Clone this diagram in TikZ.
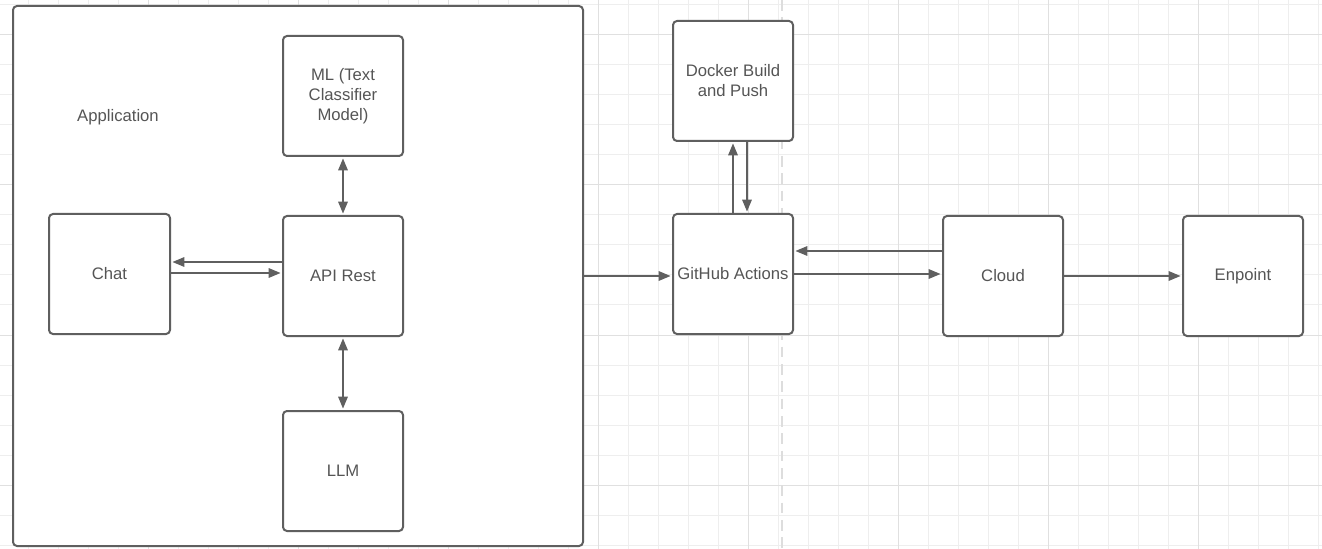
\documentclass[tikz,border=0pt]{standalone}
\usepackage{fontspec}
\setmainfont{Liberation Sans}
\usetikzlibrary{arrows.meta}
\definecolor{ln}{HTML}{5F5F5F}
\definecolor{tx}{HTML}{555555}
\definecolor{gmin}{HTML}{EEEEEE}
\definecolor{gmaj}{HTML}{E0E0E0}
\definecolor{dsh}{HTML}{DDDDDD}
\begin{document}
\begin{tikzpicture}[x=0.75pt,y=-0.75pt,
  box/.style={draw=ln,line width=1.5pt,rounded corners=3pt,fill=white,minimum width=90pt,minimum height=90pt,inner sep=0pt,text=tx,align=center,font=\fontsize{12.5}{15}\selectfont},
  arr/.style={draw=ln,line width=1.5pt,-{Triangle[length=9pt,width=7pt]},shorten >=1pt},
  darr/.style={draw=ln,line width=1.5pt,{Triangle[length=9pt,width=7pt]}-{Triangle[length=9pt,width=7pt]},shorten >=1pt,shorten <=1pt}]
\useasboundingbox (0,0) rectangle (1322,549);
\fill[white] (0,0) rectangle (1322,549);
% grid
\foreach \x in {28,58,...,1322} \draw[gmin,line width=0.75pt] (\x,0) -- (\x,549);
\foreach \y in {5,35,...,549} \draw[gmin,line width=0.75pt] (0,\y) -- (1322,\y);
\foreach \x in {148,298,...,1322} \draw[gmaj,line width=0.75pt] (\x,0) -- (\x,549);
\foreach \y in {35,185,...,549} \draw[gmaj,line width=0.75pt] (0,\y) -- (1322,\y);
\draw[dsh,line width=2.2pt,dash pattern=on 8pt off 5pt] (782,0) -- (782,549);
% nodes
\node[box,minimum width=427.5pt,minimum height=405pt] (app) at (298,276) {};
\node[text=tx,font=\fontsize{12.5}{15}\selectfont] (applbl) at (118,117) {Application};
\node[box] (ml) at (343,96) {ML (Text\\Classifier\\Model)};
\node[box,minimum width=90.75pt] (chat) at (109.5,274) {Chat};
\node[box] (api) at (343,276) {API Rest};
\node[box] (llm) at (343,471) {LLM};
\node[box] (docker) at (733,81) {Docker Build\\and Push};
\node[box] (gh) at (733,274) {GitHub Actions};
\node[box] (cloud) at (1003,276) {Cloud};
\node[box] (enp) at (1243,276) {Enpoint};
% connectors
\draw[darr] (ml) -- (api);
\draw[darr] (api) -- (llm);
\draw[arr] (api.west |- 0,262) -- (chat.east |- 0,262);
\draw[arr] (chat.east |- 0,273) -- (api.west |- 0,273);
\draw[arr] (app.east |- 0,276) -- (gh.west |- 0,276);
\draw[arr] (gh.north -| 733,0) -- (docker.south -| 733,0);
\draw[arr] (docker.south -| 747,0) -- (gh.north -| 747,0);
\draw[arr] (cloud.west |- 0,251) -- (gh.east |- 0,251);
\draw[arr] (gh.east |- 0,274) -- (cloud.west |- 0,274);
\draw[arr] (cloud.east |- 0,276) -- (enp.west |- 0,276);
\end{tikzpicture}
\end{document}
